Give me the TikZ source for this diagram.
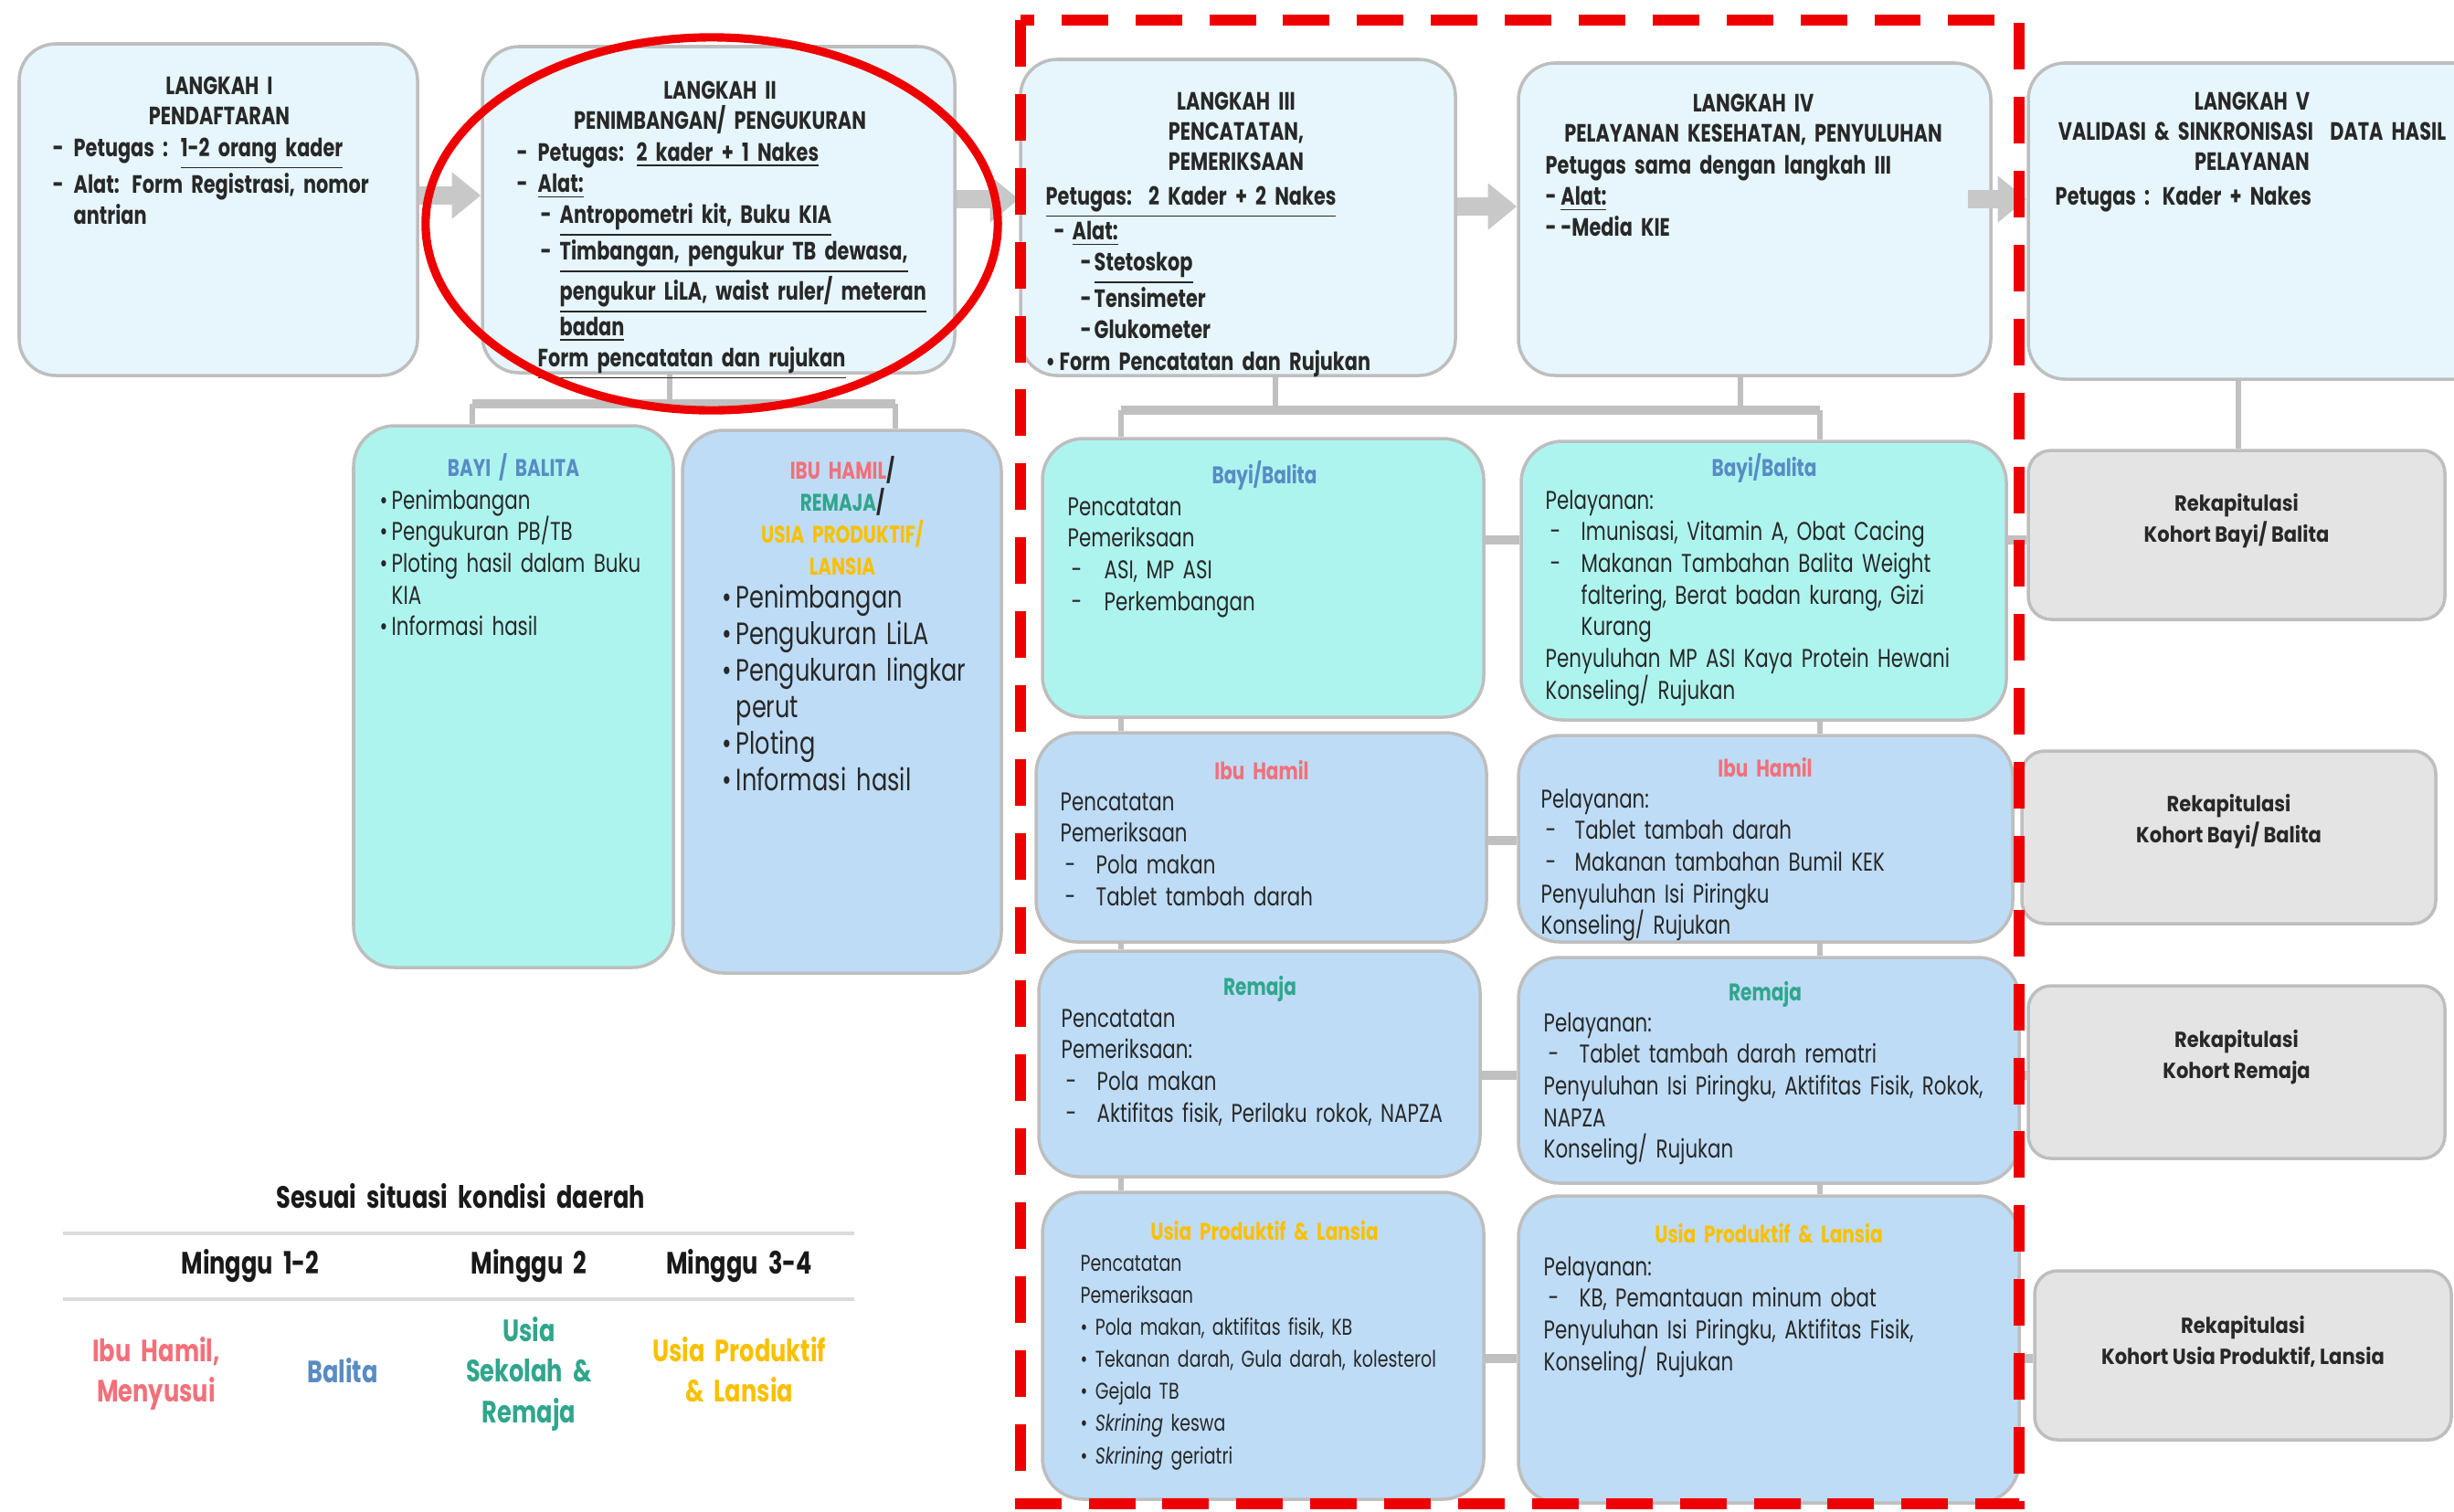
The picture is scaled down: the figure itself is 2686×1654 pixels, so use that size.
\documentclass[tikz,border=0pt]{standalone}
\usepackage{fontspec}
\setmainfont{Poppins}[FakeStretch=0.76]
\newfontfamily\rekfont{Poppins}[FakeStretch=0.88]
\usetikzlibrary{fit,arrows.meta,calc}
\definecolor{lbox}{RGB}{230,246,252}
\definecolor{aqua}{RGB}{174,244,238}
\definecolor{lblue}{RGB}{190,220,246}
\definecolor{rek}{RGB}{228,228,228}
\definecolor{edge}{RGB}{190,190,190}
\definecolor{conn}{RGB}{192,192,192}
\definecolor{arr}{RGB}{200,200,200}
\definecolor{txt}{RGB}{40,40,40}
\definecolor{cblue}{RGB}{88,140,196}
\definecolor{cpink}{RGB}{242,112,122}
\definecolor{cteal}{RGB}{48,166,140}
\definecolor{cgold}{RGB}{250,192,0}
\definecolor{redline}{RGB}{238,0,0}
\newlength\pxu
\setlength\pxu{0.01cm}
\newcommand\dsh[1]{\makebox[#1\pxu][l]{-}}
\newcommand\bul[1]{\makebox[#1\pxu][l]{\textbullet}}
\newcommand\ind[1]{\hspace*{#1\pxu}}
\newcommand\uln[1]{\underline{#1}}
\tikzset{
  card/.style={draw=edge, line width=1pt, inner sep=0pt},
  stepcard/.style={card, fill=lbox, rounded corners=0.4cm},
  aquacard/.style={card, fill=aqua, rounded corners=0.45cm},
  bluecard/.style={card, fill=lblue, rounded corners=0.45cm},
  rekcard/.style={card, fill=rek, rounded corners=0.25cm},
  conline/.style={draw=conn, line width=1.8pt},
  conbar/.style={draw=conn, line width=3pt},
  conh/.style={draw=conn, line width=2.6pt},
  blockarrow/.style={draw=arr, line width=5.6pt, -{Triangle[length=9pt,width=14pt]}},
  stephead/.style={anchor=base, align=center, text width=6cm, inner sep=0pt, text=txt, font=\fontsize{7.8}{9.5}\selectfont\bfseries},
  stepbody/.style={anchor=base west, align=left, text width=6cm, inner sep=0pt, text=txt, font=\fontsize{7.8}{9.76}\selectfont\bfseries},
  subhead/.style={anchor=base, align=center, text width=5cm, inner sep=0pt, font=\fontsize{7.5}{10}\selectfont\bfseries},
  subbody/.style={anchor=base west, align=left, text width=6cm, inner sep=0pt, text=txt, font=\fontsize{8}{9.87}\selectfont},
  rektext/.style={align=center, inner sep=0pt, text=txt, font=\rekfont\fontsize{6.8}{9.7}\selectfont\bfseries},
  tabtext/.style={anchor=base, align=center, text width=3cm, inner sep=0pt, font=\fontsize{9.6}{12.7}\selectfont\bfseries},
  tabrule/.style={draw=black!14, line width=1.4pt},
}
\begin{document}
\begin{tikzpicture}[x=0.01cm, y=-0.01cm]
\useasboundingbox (0,0) rectangle (2686,1654);
\clip (0,0) rectangle (2686,1654);

% ---------- step boxes ----------
\node[stepcard, fit={(21,48) (457,411)}] (L1) {};
\node[stepcard, fit={(528,51) (1045,408)}] (L2) {};
\node[stepcard, fit={(1117,65) (1593,411)}] (L3) {};
\node[stepcard, fit={(1662,69) (2179,411)}] (L4) {};
\node[stepcard, fit={(2220,69) (2740,415)}] (L5) {};

% ---------- child boxes ----------
\node[aquacard, fit={(387,466) (737,1059)}] (P2a) {};
\node[bluecard, fit={(747,471) (1096,1065)}] (P2b) {};

\node[aquacard, fit={(1141,480) (1624,785)}] (T3a) {};
\node[aquacard, fit={(1665,483) (2196,788)}] (T4a) {};
\node[bluecard, fit={(1134,802) (1627,1031)}] (T3b) {};
\node[bluecard, fit={(1662,805) (2203,1031)}] (T4b) {};
\node[bluecard, fit={(1137,1041) (1620,1288)}] (T3c) {};
\node[bluecard, fit={(1662,1048) (2210,1295)}] (T4c) {};
\node[bluecard, fit={(1141,1305) (1624,1641)}] (T3d) {};
\node[bluecard, fit={(1662,1309) (2210,1645)}] (T4d) {};

\node[rekcard, fit={(2220,493) (2676,678)}] (R1) {};
\node[rekcard, fit={(2213,822) (2666,1011)}] (R2) {};
\node[rekcard, fit={(2220,1079) (2676,1268)}] (R3) {};
\node[rekcard, fit={(2227,1391) (2683,1576)}] (R4) {};

% ---------- connectors ----------
\coordinate (j2) at (733,442);
\coordinate (b2l) at (517,442);
\coordinate (b2r) at (980,442);
\draw[conline] (L2.south -| j2) -- (j2);
\draw[conbar] (b2l) -- (b2r);
\draw[conline] (b2l) -- (P2a.north -| b2l);
\draw[conline] (b2r) -- (P2b.north -| b2r);

\coordinate (j3) at (1396,449);
\coordinate (j4) at (1905,449);
\coordinate (bl) at (1227,449);
\coordinate (br) at (1992,449);
\draw[conline] (L3.south -| j3) -- (j3);
\draw[conline] (L4.south -| j4) -- (j4);
\draw[conbar] (bl) -- (br);
\draw[conline] (bl) -- (T3a.north -| bl);
\draw[conline] (br) -- (T4a.north -| br);

\draw[conline] (T3a.south -| bl) -- (T3b.north -| bl);
\draw[conline] (T3b.south -| bl) -- (T3c.north -| bl);
\draw[conline] (T3c.south -| bl) -- (T3d.north -| bl);
\draw[conline] (T4a.south -| br) -- (T4b.north -| br);
\draw[conline] (T4b.south -| br) -- (T4c.north -| br);
\draw[conline] (T4c.south -| br) -- (T4d.north -| br);

\coordinate (j5) at (2450,450);
\draw[conline] (L5.south -| j5) -- (R1.north -| j5);

\draw[conh] (T3a.east |- 0,591) -- (T4a.west |- 0,591);
\draw[conh] (T4a.east |- 0,591) -- (R1.west |- 0,591);
\draw[conh] (T3b.east |- 0,920) -- (T4b.west |- 0,920);
\draw[conh] (T4b.east |- 0,920) -- (R2.west |- 0,920);
\draw[conh] (T3c.east |- 0,1177) -- (T4c.west |- 0,1177);
\draw[conh] (T4c.east |- 0,1177) -- (R3.west |- 0,1177);
\draw[conh] (T3d.east |- 0,1487) -- (T4d.west |- 0,1487);
\draw[conh] (T4d.east |- 0,1487) -- (R4.west |- 0,1487);

\draw[blockarrow] (L1.east |- 0,214) -- (L2.west |- 0,214);
\draw[blockarrow] (L2.east |- 0,218) -- (L3.west |- 0,218);
\draw[blockarrow] (L3.east |- 0,226) -- (L4.west |- 0,226);
\draw[blockarrow] ($(L4.east |- 0,218)+(-27,0)$) -- (L5.west |- 0,218);

% ---------- step texts ----------
\node[stephead] (L1h) at (240,103) {LANGKAH I\\PENDAFTARAN};
\node[stepbody] (L1b) at (57,171) {\dsh{23}Petugas : \uln{1-2 orang kader}\\\dsh{23}Alat: Form Registrasi, nomor\\\ind{23}antrian};

\node[stephead] (L2h) at (788,108) {LANGKAH II\\PENIMBANGAN/ PENGUKURAN};
\node[stepbody] (L2b) at (565,176) {\dsh{23}Petugas: \uln{2 kader + 1 Nakes}\\
\dsh{23}\uln{Alat:}\\
\ind{26}\dsh{21}\uln{Antropometri kit, Buku KIA}\\
\ind{26}\dsh{21}\uln{Timbangan, pengukur TB dewasa,}\\
\ind{47}\uln{pengukur LiLA, waist ruler/ meteran}\\
\ind{47}\uln{badan}\\
\ind{23}\uln{Form pencatatan dan rujukan}};

\node[stephead] (L3h) at (1353,120) {LANGKAH III\\PENCATATAN,\\PEMERIKSAAN};
\node[stepbody] (L3b) at (1144,224) {\uln{Petugas:\ \ 2 Kader + 2 Nakes}\\
\ind{9}\dsh{20}\uln{Alat:}\\
\ind{38}\dsh{15}\uln{Stetoskop}\\
\ind{38}\dsh{15}Tensimeter\\
\ind{38}\dsh{15}Glukometer\\
\textbullet\,Form Pencatatan dan Rujukan};

\node[stephead] (L4h) at (1919,122) {LANGKAH IV\\PELAYANAN KESEHATAN, PENYULUHAN};
\node[stepbody] (L4b) at (1691,190) {Petugas sama dengan langkah III\\-\,\uln{Alat:}\\-\,-Media KIE};

\node[stephead] (L5h) at (2465,120) {LANGKAH V\\VALIDASI \& SINKRONISASI\ \ DATA HASIL\\PELAYANAN};
\node[stepbody] (L5b) at (2249,224) {Petugas : Kader + Nakes};

% ---------- langkah II children ----------
\node[subhead, text=cblue] (P2ah) at (562,521) {BAYI / BALITA};
\node[subbody] (P2ab) at (415,557) {\bul{13}Penimbangan\\\bul{13}Pengukuran PB/TB\\\bul{13}Ploting hasil dalam Buku\\\ind{13}KIA\\\bul{13}Informasi hasil};

\node[subhead, text=txt] (P2bh) at (922,524) {{\color{cpink}IBU HAMIL}/\\{\color{cteal}REMAJA}/\\{\color{cgold}USIA PRODUKTIF/}\\{\color{cgold}LANSIA}};
\node[subbody, font=\fontsize{9.6}{11.4}\selectfont] (P2bb) at (790,665) {\bul{15}Penimbangan\\\bul{15}Pengukuran LiLA\\\bul{15}Pengukuran lingkar\\\ind{15}perut\\\bul{15}Ploting\\\bul{15}Informasi hasil};

% ---------- langkah III / IV children ----------
\node[subhead, text=cblue] (T3ah) at (1384,529) {Bayi/Balita};
\node[subbody] (T3ab) at (1168,564) {Pencatatan\\Pemeriksaan\\\ind{4}\dsh{36}ASI, MP ASI\\\ind{4}\dsh{36}Perkembangan};

\node[subhead, text=cblue] (T4ah) at (1931,521) {Bayi/Balita};
\node[subbody] (T4ab) at (1691,557) {Pelayanan:\\\ind{5}\dsh{34}Imunisasi, Vitamin A, Obat Cacing\\\ind{5}\dsh{34}Makanan Tambahan Balita Weight\\\ind{39}faltering, Berat badan kurang, Gizi\\\ind{39}Kurang\\Penyuluhan MP ASI Kaya Protein Hewani\\Konseling/ Rujukan};

\node[subhead, text=cpink] (T3bh) at (1381,853) {Ibu Hamil};
\node[subbody] (T3bb) at (1160,887) {Pencatatan\\Pemeriksaan\\\ind{5}\dsh{34}Pola makan\\\ind{5}\dsh{34}Tablet tambah darah};

\node[subhead, text=cpink] (T4bh) at (1932,850) {Ibu Hamil};
\node[subbody] (T4bb) at (1686,884) {Pelayanan:\\\ind{5}\dsh{32}Tablet tambah darah\\\ind{5}\dsh{32}Makanan tambahan Bumil KEK\\Penyuluhan Isi Piringku\\Konseling/ Rujukan};

\node[subhead, text=cteal] (T3ch) at (1379,1089) {Remaja};
\node[subbody] (T3cb) at (1161,1124) {Pencatatan\\Pemeriksaan:\\\ind{5}\dsh{34}Pola makan\\\ind{5}\dsh{34}Aktifitas fisik, Perilaku rokok, NAPZA};

\node[subhead, text=cteal] (T4ch) at (1932,1095) {Remaja};
\node[subbody] (T4cb) at (1689,1129) {Pelayanan:\\\ind{5}\dsh{34}Tablet tambah darah rematri\\Penyuluhan Isi Piringku, Aktifitas Fisik, Rokok,\\NAPZA\\Konseling/ Rujukan};

\node[subhead, text=cgold] (T3dh) at (1384,1357) {Usia Produktif \& Lansia};
\node[subbody, font=\fontsize{7.1}{10}\selectfont] (T3db) at (1182,1391) {Pencatatan\\Pemeriksaan\\\textbullet\ Pola makan, aktifitas fisik, KB\\\textbullet\ Tekanan darah, Gula darah, kolesterol\\\textbullet\ Gejala TB\\\textbullet\ \textit{Skrining} keswa\\\textbullet\ \textit{Skrining} geriatri};

\node[subhead, text=cgold] (T4dh) at (1936,1360) {Usia Produktif \& Lansia};
\node[subbody] (T4db) at (1689,1396) {Pelayanan:\\\ind{5}\dsh{34}KB, Pemantauan minum obat\\Penyuluhan Isi Piringku, Aktifitas Fisik,\\Konseling/ Rujukan};

% ---------- rekap texts ----------
\node[rektext] (R1t) at ($(R1)+(0,-15)$) {Rekapitulasi\\Kohort Bayi/ Balita};
\node[rektext] (R2t) at ($(R2)+(0,-17)$) {Rekapitulasi\\Kohort Bayi/ Balita};
\node[rektext] (R3t) at ($(R3)+(0,-16)$) {Rekapitulasi\\Kohort Remaja};
\node[rektext] (R4t) at ($(R4)+(0,-15)$) {Rekapitulasi\\Kohort Usia Produktif, Lansia};

% ---------- schedule table ----------
\node[tabtext, text=black!90, text width=6cm] (tsesuai) at (504,1322) {Sesuai situasi kondisi daerah};
\coordinate (r1a) at (69,1350);
\coordinate (r1b) at (935,1350);
\coordinate (r2a) at (69,1422);
\coordinate (r2b) at (935,1422);
\draw[tabrule] (r1a) -- (r1b);
\draw[tabrule] (r2a) -- (r2b);
\node[tabtext, text=black!90] (m1) at (274,1394) {Minggu 1-2};
\node[tabtext, text=black!90] (m2) at (579,1394) {Minggu 2};
\node[tabtext, text=black!90] (m3) at (809,1394) {Minggu 3-4};
\node[tabtext, text=cpink] (g1) at (171,1490) {Ibu Hamil,\\Menyusui};
\node[tabtext, text=cblue] (g2) at (375,1513) {Balita};
\node[tabtext, text=cteal] (g3) at (579,1468) {Usia\\Sekolah \&\\Remaja};
\node[tabtext, text=cgold] (g4) at (809,1490) {Usia Produktif\\\& Lansia};

% ---------- red highlights ----------
\draw[redline, line width=3.2pt, dash pattern=on 14.5pt off 8.5pt] (1117,22) rectangle (2210,1646);
\draw[redline, line width=2.6pt] (779,245) ellipse [x radius=3.13cm, y radius=2.04cm];
\end{tikzpicture}
\end{document}
